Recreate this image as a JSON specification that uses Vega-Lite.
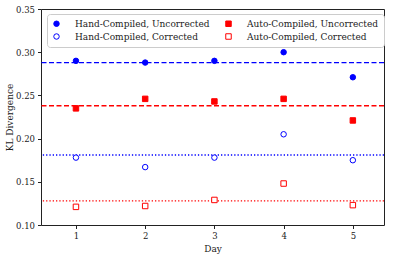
{
  "$schema": "https://vega.github.io/schema/vega-lite/v6.json",
  "width": 343,
  "height": 216,
  "autosize": "none",
  "padding": {"left": 41, "top": 9, "right": 10, "bottom": 33},
  "config": {
    "font": "DejaVu Serif",
    "view": {"stroke": "#222", "strokeWidth": 1},
    "axis": {"grid": false, "domain": false, "tickColor": "#222", "labelColor": "#222", "titleColor": "#222", "labelFontSize": 8.5, "titleFontSize": 9, "titleFontWeight": "normal", "tickSize": 3.5, "labelPadding": 3}
  },
  "datasets": {
    "points": [
      {"day": 1, "series": "Hand-Compiled, Uncorrected", "kl": 0.290},
      {"day": 2, "series": "Hand-Compiled, Uncorrected", "kl": 0.288},
      {"day": 3, "series": "Hand-Compiled, Uncorrected", "kl": 0.290},
      {"day": 4, "series": "Hand-Compiled, Uncorrected", "kl": 0.300},
      {"day": 5, "series": "Hand-Compiled, Uncorrected", "kl": 0.271},
      {"day": 1, "series": "Auto-Compiled, Uncorrected", "kl": 0.235},
      {"day": 2, "series": "Auto-Compiled, Uncorrected", "kl": 0.246},
      {"day": 3, "series": "Auto-Compiled, Uncorrected", "kl": 0.243},
      {"day": 4, "series": "Auto-Compiled, Uncorrected", "kl": 0.246},
      {"day": 5, "series": "Auto-Compiled, Uncorrected", "kl": 0.221},
      {"day": 1, "series": "Hand-Compiled, Corrected", "kl": 0.178},
      {"day": 2, "series": "Hand-Compiled, Corrected", "kl": 0.167},
      {"day": 3, "series": "Hand-Compiled, Corrected", "kl": 0.178},
      {"day": 4, "series": "Hand-Compiled, Corrected", "kl": 0.205},
      {"day": 5, "series": "Hand-Compiled, Corrected", "kl": 0.175},
      {"day": 1, "series": "Auto-Compiled, Corrected", "kl": 0.121},
      {"day": 2, "series": "Auto-Compiled, Corrected", "kl": 0.122},
      {"day": 3, "series": "Auto-Compiled, Corrected", "kl": 0.129},
      {"day": 4, "series": "Auto-Compiled, Corrected", "kl": 0.148},
      {"day": 5, "series": "Auto-Compiled, Corrected", "kl": 0.123}
    ],
    "means": [
      {"series": "Hand-Compiled, Uncorrected", "kl": 0.288, "style": "dash"},
      {"series": "Auto-Compiled, Uncorrected", "kl": 0.238, "style": "dash"},
      {"series": "Hand-Compiled, Corrected", "kl": 0.181, "style": "dot"},
      {"series": "Auto-Compiled, Corrected", "kl": 0.128, "style": "dot"}
    ]
  },
  "layer": [
    {
      "data": {"name": "means"},
      "mark": {"type": "rule", "strokeWidth": 1.3},
      "encoding": {
        "y": {"field": "kl", "type": "quantitative", "scale": {"domain": [0.1, 0.35]}},
        "color": {"field": "series", "type": "nominal", "scale": {"domain": ["Hand-Compiled, Uncorrected", "Hand-Compiled, Corrected", "Auto-Compiled, Uncorrected", "Auto-Compiled, Corrected"], "range": ["#0000ff", "#0000ff", "#ff0000", "#ff0000"]}, "legend": null},
        "strokeDash": {"field": "style", "type": "nominal", "scale": {"domain": ["dash", "dot"], "range": [[5, 2.5], [1.3, 2]]}, "legend": null}
      }
    },
    {
      "data": {"name": "points"},
      "mark": {"type": "point", "size": 30, "strokeWidth": 1, "opacity": 1},
      "encoding": {
        "x": {"field": "day", "type": "quantitative", "scale": {"domain": [0.495, 5.45], "nice": false, "zero": false}, "axis": {"values": [1, 2, 3, 4, 5], "title": "Day", "titlePadding": 4}},
        "y": {"field": "kl", "type": "quantitative", "scale": {"domain": [0.1, 0.35], "nice": false, "zero": false}, "axis": {"values": [0.1, 0.15, 0.2, 0.25, 0.3, 0.35], "format": ".2f", "title": "KL Divergence", "titlePadding": 1}},
        "shape": {"field": "series", "type": "nominal", "scale": {"domain": ["Hand-Compiled, Uncorrected", "Hand-Compiled, Corrected", "Auto-Compiled, Uncorrected", "Auto-Compiled, Corrected"], "range": ["circle", "circle", "square", "square"]},
          "legend": {"title": null, "orient": "none", "legendX": 6, "legendY": 5, "columns": 2, "direction": "vertical", "fillColor": "white", "strokeColor": "#cccccc", "cornerRadius": 3, "padding": 5, "labelFontSize": 9, "labelColor": "#222", "labelOffset": 14, "columnPadding": 13, "rowPadding": 2, "symbolSize": 30, "symbolStrokeWidth": 1, "labelLimit": 200}},
        "stroke": {"field": "series", "type": "nominal", "scale": {"domain": ["Hand-Compiled, Uncorrected", "Hand-Compiled, Corrected", "Auto-Compiled, Uncorrected", "Auto-Compiled, Corrected"], "range": ["#0000ff", "#0000ff", "#ff0000", "#ff0000"]}},
        "fill": {"field": "series", "type": "nominal", "scale": {"domain": ["Hand-Compiled, Uncorrected", "Hand-Compiled, Corrected", "Auto-Compiled, Uncorrected", "Auto-Compiled, Corrected"], "range": ["#0000ff", "#ffffff", "#ff0000", "#ffffff"]}}
      }
    }
  ],
  "resolve": {"scale": {"color": "independent"}}
}
